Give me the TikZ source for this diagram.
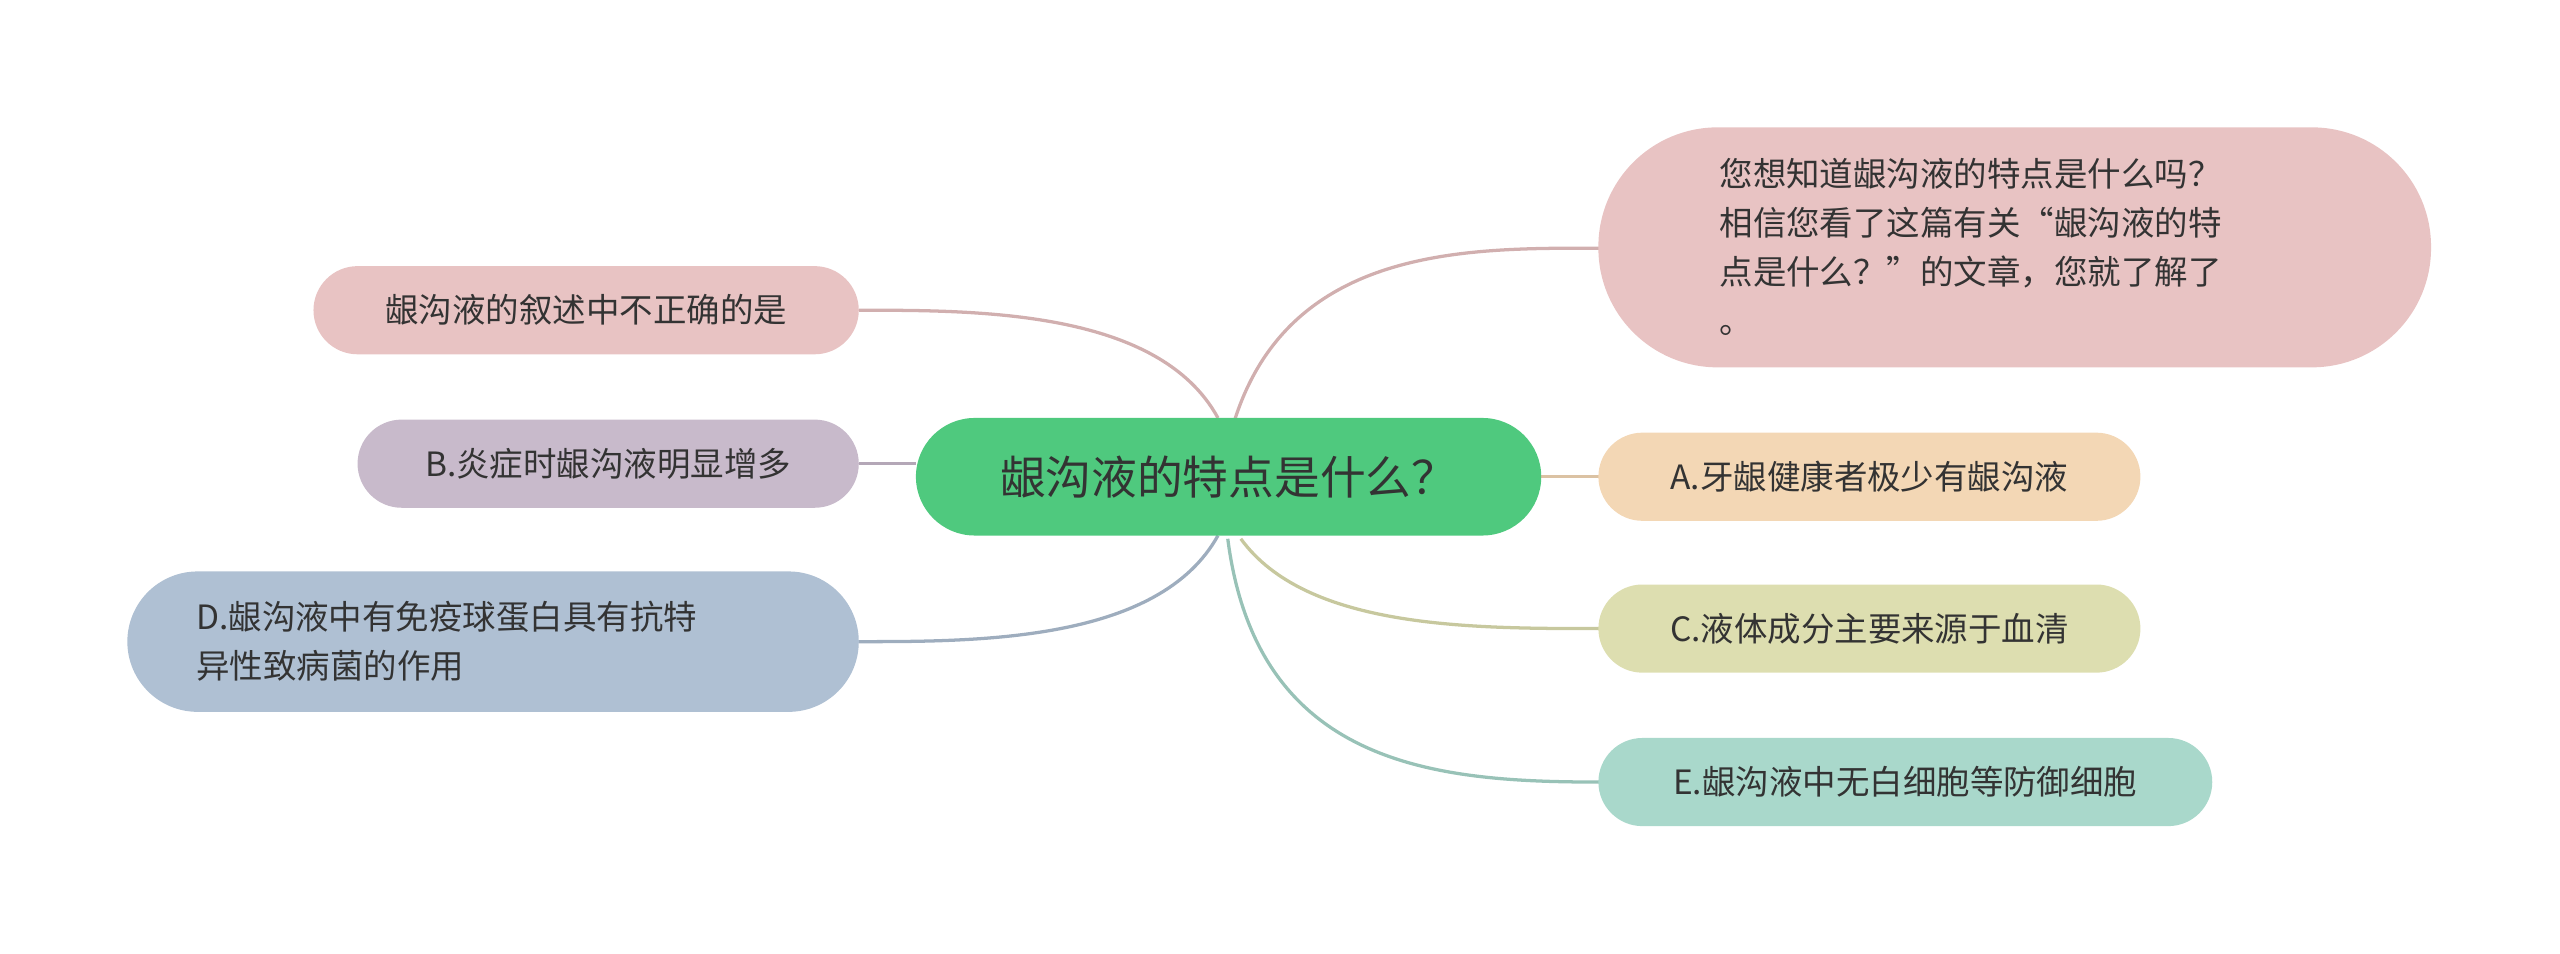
\documentclass[tikz,border=0pt]{standalone}
\usepackage{fontspec}
\setmainfont{Noto Sans CJK SC}
\begin{document}
\begin{tikzpicture}[x=1pt,y=-1pt,
  box/.style={rounded corners=#1, inner sep=0pt, text=black!80, font=\fontsize{20.5}{30}\selectfont, align=left},
  lk/.style={line width=2pt}]
\useasboundingbox (0,0) rectangle (1568,584);
\definecolor{cg}{HTML}{4FC97E}
\definecolor{cp}{HTML}{E8C3C3}
\definecolor{co}{HTML}{F3D7B5}
\definecolor{cy}{HTML}{DDDEB0}
\definecolor{ct}{HTML}{A9D8CB}
\definecolor{cv}{HTML}{C8BACB}
\definecolor{cb}{HTML}{AFC0D3}
% connectors first
\coordinate (ct1) at (756,258);
\coordinate (cl1) at (746,256);
\coordinate (cb1) at (760,330);
\coordinate (cb2) at (752,330);
\coordinate (cb3) at (746,328);
\draw[lk,cp!90!black] (ct1) .. controls (790,150) and (900,152) .. (980,152);
\draw[lk,co!90!black] (944,292) -- (980,292);
\draw[lk,cy!90!black] (cb1) .. controls (800,385) and (900,385) .. (980,385);
\draw[lk,ct!90!black] (cb2) .. controls (770,470) and (880,479) .. (980,479);
\draw[lk,cp!90!black] (cl1) .. controls (710,190) and (600,190) .. (526,190);
\draw[lk,cv!90!black] (561,284) -- (526,284);
\draw[lk,cb!90!black] (cb3) .. controls (710,393) and (600,393) .. (526,393);
% nodes
\node[box=36pt, fill=cg, minimum width=383pt, minimum height=72pt, font=\fontsize{28}{34}\selectfont, text=black!80] (c) at (752.5,292) {龈沟液的特点是什么？};
\node[box=73pt, fill=cp, minimum width=510pt, minimum height=147pt] (t) at (1234,151.5) {};
\node[anchor=west, align=left, font=\fontsize{20.5}{30}\selectfont, text=black!80, inner sep=0pt] (tt) at (1053,151.5) {您想知道龈沟液的特点是什么吗？\\相信您看了这篇有关“龈沟液的特\\点是什么？”的文章，您就了解了\\。};
\node[box=27pt, fill=co, minimum width=332pt, minimum height=54pt] (a) at (1145,292) {A.牙龈健康者极少有龈沟液};
\node[box=27pt, fill=cy, minimum width=332pt, minimum height=54pt] (cc) at (1145,385) {C.液体成分主要来源于血清};
\node[box=27pt, fill=ct, minimum width=376pt, minimum height=54pt] (e) at (1167,479) {E.龈沟液中无白细胞等防御细胞};
\node[box=27pt, fill=cp, minimum width=334pt, minimum height=54pt] (l) at (359,190) {龈沟液的叙述中不正确的是};
\node[box=27pt, fill=cv, minimum width=307pt, minimum height=54pt] (b) at (372.5,284) {B.炎症时龈沟液明显增多};
\node[box=43pt, fill=cb, minimum width=448pt, minimum height=86pt] (d) at (302,393) {};
\node[anchor=west, align=left, font=\fontsize{20.5}{30}\selectfont, text=black!80, inner sep=0pt] (dt) at (120,393) {D.龈沟液中有免疫球蛋白具有抗特\\异性致病菌的作用};
\end{tikzpicture}
\end{document}
